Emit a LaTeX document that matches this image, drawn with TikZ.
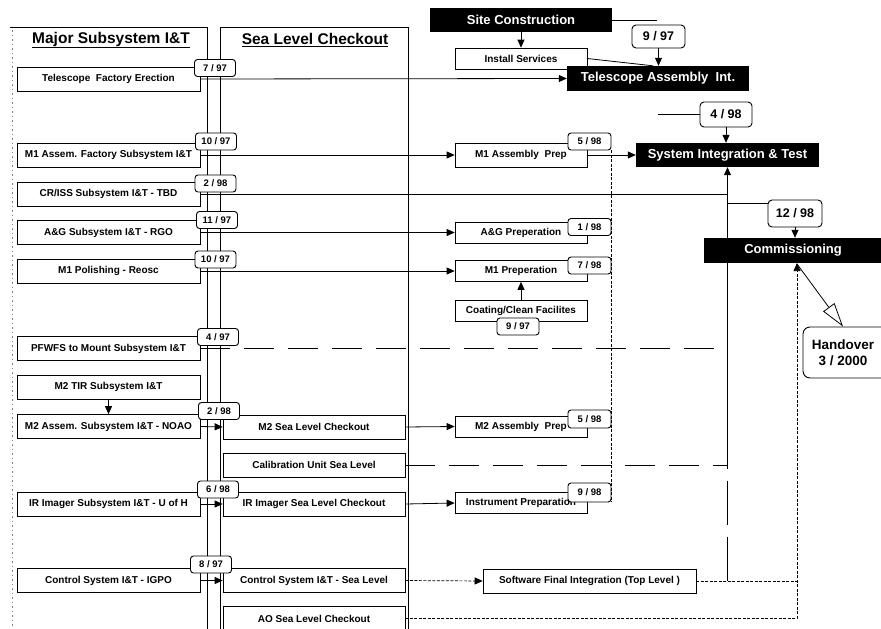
\documentclass[tikz,border=0pt]{standalone}
\usepackage{fontspec}
\setmainfont{Liberation Sans}
\usetikzlibrary{arrows.meta,calc}
\begin{document}
\begin{tikzpicture}[x=1pt,y=-1pt,
  bx/.style={draw,line width=0.7pt,fill=white,inner sep=1pt,minimum height=24pt,font=\fontsize{10}{12}\selectfont\bfseries},
  lbx/.style={bx,minimum width=183pt},
  mbx/.style={bx,minimum width=182pt},
  pbx/.style={bx,minimum width=132pt,minimum height=21pt},
  dt/.style={draw,line width=0.9pt,fill=white,rounded corners=3pt,inner sep=0pt,minimum width=41pt,minimum height=17pt,font=\fontsize{9.5}{11}\selectfont\bfseries},
  bdt/.style={dt,minimum width=53pt,minimum height=24pt,rounded corners=4pt,font=\fontsize{12.5}{14}\selectfont\bfseries},
  blk/.style={fill=black,text=white,inner sep=0pt,minimum width=182pt,minimum height=24pt,font=\fontsize{13}{15}\selectfont\bfseries},
  ttl/.style={font=\fontsize{15.5}{18}\selectfont\bfseries},
  ln/.style={line width=0.8pt},
  arr/.style={ln,-{Triangle[length=8pt,width=7pt]}},
  lds/.style={ln,dash pattern=on 30pt off 14pt},
  dotl/.style={line width=0.7pt,dash pattern=on 3pt off 1.5pt},
  dotarr/.style={dotl,-{Triangle[length=8pt,width=7pt]}}
]
\useasboundingbox (0,0) rectangle (881,629);
\clip (0,0) rectangle (881,629);
\fill[white] (0,0) rectangle (881,629);

% panel frames
\draw[ln] (10,27) -- (207,27) -- (207,629);
\draw[ln] (220,629) -- (220,27) -- (408,27) -- (408,629);
\draw[gray,line width=0.5pt,dash pattern=on 1.5pt off 3pt] (12,30) -- (12,629);

\node[ttl] (t1) at (111,40) {\underline{Major Subsystem I\&T}};
\node[ttl] (t2) at (315,40) {\underline{Sea Level Checkout}};

% left boxes
\node[lbx] (tfe) at (108.5,79) {Telescope\ \ Factory Erection};
\node[lbx] (m1a) at (108.5,155) {M1 Assem. Factory Subsystem I\&T};
\node[lbx] (criss) at (108.5,194) {CR/ISS Subsystem I\&T - TBD};
\node[lbx] (ag) at (108.5,232.5) {A\&G Subsystem I\&T - RGO};
\node[lbx] (m1p) at (108.5,271) {M1 Polishing - Reosc};
\node[lbx] (pfwfs) at (108.5,348.5) {PFWFS to Mount Subsystem I\&T};
\node[lbx] (m2tir) at (108.5,387) {M2 TIR Subsystem I\&T};
\node[lbx] (m2a) at (108.5,426.5) {M2 Assem. Subsystem I\&T - NOAO};
\node[lbx] (iri) at (108.5,504) {IR Imager Subsystem I\&T - U of H};
\node[lbx] (cs) at (108.5,580.5) {Control System I\&T - IGPO};

% middle boxes
\node[mbx] (m2sl) at (314,427) {M2 Sea Level Checkout};
\node[mbx] (cal) at (314,465) {Calibration Unit Sea Level};
\node[mbx] (irsl) at (314,504) {IR Imager Sea Level Checkout};
\node[mbx] (cssl) at (314,580.5) {Control System I\&T - Sea Level};
\node[mbx] (ao) at (314,618.5) {AO Sea Level Checkout};

% prep boxes
\node[pbx] (ins) at (521,58.5) {Install Services};
\node[pbx,minimum height=24pt] (m1ap) at (521,155) {M1 Assembly\ \ Prep};
\node[pbx] (agp) at (521,232.5) {A\&G Preperation};
\node[pbx] (m1pp) at (521,271) {M1 Preperation};
\node[pbx] (coat) at (521,311) {Coating/Clean Facilites};
\node[pbx] (m2ap) at (521,426.5) {M2 Assembly\ \ Prep};
\node[pbx] (instp) at (521,503) {Instrument Preparation};
\node[bx,minimum width=213pt] (sfi) at (589.5,581) {Software Final Integration (Top Level )};

% black boxes
\node[blk] (site) at (521,20) {Site Construction};
\node[blk,minimum height=25pt] (tai) at (658,78.5) {Telescope Assembly\ \ Int.};
\node[blk,minimum width=183pt] (sit) at (727.5,155) {System Integration \& Test};
\node[blk,minimum width=178pt,minimum height=25pt] (com) at (793,250.5) {Commissioning};
\node[draw,line width=0.9pt,rounded corners=7pt,fill=white,minimum width=88pt,minimum height=51pt,font=\fontsize{13.5}{16}\selectfont\bfseries] (hand) at (847,352.5) {};
\node[align=center,font=\fontsize{13.5}{16}\selectfont\bfseries] (handt) at (843,352.5) {Handover\\3 / 2000};

% date labels
\node[dt] (d1) at (215,68) {7 / 97};
\node[dt] (d2) at (216,141.5) {10 / 97};
\node[dt] (d3) at (215.5,183.5) {2 / 98};
\node[dt] (d4) at (217,220) {11 / 97};
\node[dt] (d5) at (215.5,259.5) {10 / 97};
\node[dt] (d6) at (218,337) {4 / 97};
\node[dt] (d7) at (219,411) {2 / 98};
\node[dt] (d8) at (218,489.5) {6 / 98};
\node[dt] (d9) at (211,564.5) {8 / 97};
\node[dt,minimum width=43pt] (d10) at (589.5,141.5) {5 / 98};
\node[dt,minimum width=43pt] (d11) at (589.5,227) {1 / 98};
\node[dt,minimum width=43pt] (d12) at (589.5,265.5) {7 / 98};
\node[dt,minimum width=42pt] (d13) at (518,326.5) {9 / 97};
\node[dt,minimum width=43pt,minimum height=18pt] (d14) at (589.5,419) {5 / 98};
\node[dt,minimum width=43pt,minimum height=19pt] (d15) at (589.5,492.5) {9 / 98};
\node[bdt,minimum height=23pt] (d16) at (658.5,36.5) {9 / 97};
\node[bdt,minimum width=52pt,minimum height=25pt] (d17) at (726,114.5) {4 / 98};
\node[bdt,minimum width=54pt,minimum height=27pt] (d18) at (795,213.5) {12 / 98};

% helper coordinates
\coordinate (cin) at (797,263);
\coordinate (f16) at (657,20);
\coordinate (f17) at (658,114.5);

% connectors left -> right
\draw[arr] (tfe.east) -- (tai.west);
\draw[arr] (m1a.east) -- (m1ap.west);
\draw[ln] (criss.east) -- (criss.east -| sit.south);
\draw[arr] (ag.east) -- (agp.west);
\draw[arr] (m1p.east) -- (m1pp.west);
\draw[lds] (pfwfs.east) -- (pfwfs.east -| sit.south);
\draw[arr] (m2tir.south) -- (m2a.north);
\draw[arr] (m2a.east) -- (m2sl.west);
\draw[lds] (cal.east) -- (cal.east -| sit.south);
\draw[arr] (iri.east) -- (irsl.west);
\draw[arr] (cs.east) -- (cssl.west);
\draw[arr] (m2sl.east) -- (m2ap.west);
\draw[arr] (irsl.east) -- (instp.west);
\draw[dotarr] (cssl.east) -- (sfi.west);
\draw[dotarr] (ao.east) -| (cin);
\draw[dotl] (sfi.east) -- (sfi.east -| cin);
\draw[ln,dash pattern=on 44pt off 12pt] (sfi.east -| sit.south) -- (cal.east -| sit.south);
\draw[arr] (cal.east -| sit.south) -- (sit.south);
\draw[ln] ([yshift=10pt]d18.west -| sit.south) -- ([yshift=10pt]d18.west);
\draw[arr] (d18.south) -- (d18.south |- com.north);
\draw[ln,-{Triangle[open,length=24pt,width=14pt,fill=white]}] ([yshift=-1pt]cin) -- (hand.north west -| handt.north);

% top right
\draw[arr] (site.south) -- (ins.north);
\draw[ln] (site.east) -- (f16);
\draw[ln] (ins.east) -- ([xshift=-5pt]tai.north);
\draw[arr] (d16.south) -- (d16.south |- tai.north);
\draw[ln] (f17) -- (d17.west);
\draw[arr] (d17.south) -- (d17.south |- sit.north);
\draw[arr] (m1ap.east) -- (sit.west);
\draw[dotl] (d10.south east) -- (d15.south east);
\draw[arr] (coat.north) -- (m1pp.south);
\end{tikzpicture}
\end{document}
